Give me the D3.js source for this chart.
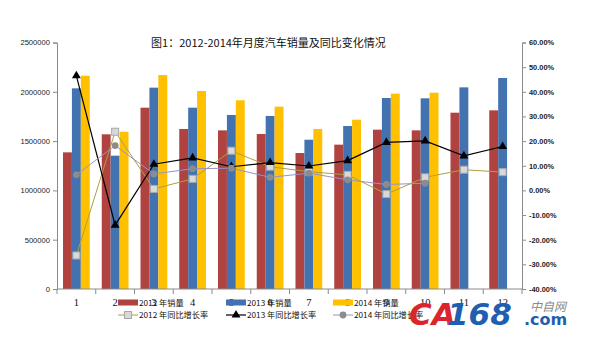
<!DOCTYPE html>
<html><head><meta charset="utf-8">
<script src="https://cdn.jsdelivr.net/npm/d3@7/dist/d3.min.js"></script>
<style>html,body{margin:0;padding:0;background:#fff;}svg{display:block;}</style>
</head><body>
<svg id="c" width="590" height="342"></svg>
<script>
const months = ["1","2","3","4","5","6","7","8","9","10","11","12"];
const sales2012 = [1386000,1569000,1839000,1623000,1609000,1572000,1379000,1464000,1616000,1609000,1788000,1812000];
const sales2013 = [2035000,1352000,2042000,1839000,1765000,1755000,1514000,1653000,1937000,1934000,2045000,2140000];
const sales2014 = [2163000,1595000,2170000,2008000,1914000,1849000,1623000,1717000,1981000,1991000,null,null];
const growth2012 = [-26.4,23.8,0.6,4.7,16.1,9.6,7.6,6.3,-1.5,5.3,8.4,7.4];
const growth2013 = [46.5,-14.1,10.6,13.2,9.6,11.3,9.9,12.1,19.5,20.1,14.0,17.8];
const growth2014 = [6.3,18.2,6.7,8.8,9.0,5.3,7.0,4.3,2.4,2.9,null,null];
const leftTicks = [0,500000,1000000,1500000,2000000,2500000];
const rightTicks = [-40,-30,-20,-10,0,10,20,30,40,50,60];
const title = "图1：2012-2014年月度汽车销量及同比变化情况";
const barNames = ["2012 年销量","2013 年销量","2014 年销量"];
const lineNames = ["2012 年同比增长率","2013 年同比增长率","2014 年同比增长率"];

const svg = d3.select("#c");
const L = 57, R = 522, T = 42.5, B = 289;
const x = d3.scaleBand().domain(months).range([L, R]);
const sub = d3.scaleBand().domain([0,1,2]).range([6, x.bandwidth()-6]);
const yL = d3.scaleLinear().domain([0,2500000]).range([B, T]);
const yR = d3.scaleLinear().domain([-40,60]).range([B, T]);
const barColors = ["#B0433F","#4272B0","#FFC000"];
const axisColor = "#8a8a8a";

// title
svg.append("text").attr("x", 268.5).attr("y", 47).attr("text-anchor","middle")
  .attr("font-family","'Noto Sans CJK SC'").attr("font-size",11).attr("fill","#111").text(title);

// bars
const series = [sales2012, sales2013, sales2014];
series.forEach((s, si) => {
  svg.append("g").selectAll("rect").data(months.map((m,i)=>({m, v:s[i]})).filter(d=>d.v!=null))
    .join("rect")
    .attr("x", d => x(d.m) + sub(si))
    .attr("width", sub.bandwidth())
    .attr("y", d => yL(d.v))
    .attr("height", d => B - yL(d.v))
    .attr("fill", barColors[si]);
});

// axes
const gL = svg.append("g").attr("transform",`translate(${L},0)`)
  .call(d3.axisLeft(yL).tickValues(leftTicks).tickSize(4).tickPadding(3).tickFormat(d3.format("d")));
const gR = svg.append("g").attr("transform",`translate(${R},0)`)
  .call(d3.axisRight(yR).tickValues(rightTicks).tickSize(4).tickPadding(3).tickFormat(d => d.toFixed(2) + "%"));
[gL, gR].forEach(g => {
  g.select(".domain").attr("stroke", axisColor);
  g.selectAll(".tick line").attr("stroke", axisColor);
  g.selectAll(".tick text").attr("font-family","'Liberation Sans', Arial").attr("font-size",7.6).attr("fill","#222");
});
gR.selectAll(".tick text").attr("font-weight","bold").attr("font-size",7.4);

// x axis
svg.append("line").attr("x1",L).attr("x2",R).attr("y1",B).attr("y2",B).attr("stroke",axisColor);
const bounds = months.map(m => x(m)).concat([R]);
svg.append("g").selectAll("line").data(bounds).join("line")
  .attr("x1", d=>d).attr("x2", d=>d).attr("y1", B).attr("y2", B+5).attr("stroke", axisColor);
svg.append("g").selectAll("text").data(months).join("text")
  .attr("x", d => x(d) + x.bandwidth()/2).attr("y", 306).attr("text-anchor","middle")
  .attr("font-family","'Liberation Serif', serif").attr("font-size",10.5).attr("fill","#111").text(d=>d);

// lines
const lineCfg = [
  {data: growth2012, color:"#ADA040", w:1, marker:"square"},
  {data: growth2013, color:"#000000", w:1.2, marker:"triangle"},
  {data: growth2014, color:"#9494CC", w:1, marker:"circle"}
];
const cx = m => x(m) + x.bandwidth()/2;
function drawMarker(g, type, px, py) {
  if (type === "square") {
    g.append("rect").attr("x",px-3.5).attr("y",py-3.5).attr("width",7).attr("height",7)
      .attr("fill","#D9D9D9").attr("stroke","#A8A8A8").attr("stroke-width",1);
  } else if (type === "triangle") {
    g.append("path").attr("d", d3.symbol().type(d3.symbolTriangle).size(34)()).attr("transform",`translate(${px},${py})`)
      .attr("fill","#000");
  } else {
    g.append("circle").attr("cx",px).attr("cy",py).attr("r",3.4).attr("fill","#8C8C8C");
  }
}
lineCfg.forEach(cfg => {
  const pts = months.map((m,i)=>({m, v:cfg.data[i]})).filter(d=>d.v!=null);
  const g = svg.append("g");
  g.append("path").datum(pts)
    .attr("d", d3.line().x(d=>cx(d.m)).y(d=>yR(d.v)))
    .attr("fill","none").attr("stroke",cfg.color).attr("stroke-width",cfg.w);
  pts.forEach(d => drawMarker(g, cfg.marker, cx(d.m), yR(d.v)));
});

// legend
const legX = [118, 226, 333];
const lg = svg.append("g");
barNames.forEach((n,i) => {
  lg.append("rect").attr("x",legX[i]).attr("y",299.5).attr("width",20).attr("height",6).attr("fill",barColors[i]);
  lg.append("text").attr("x",legX[i]+21).attr("y",305.5).attr("font-family","'Noto Sans CJK SC'").attr("font-size",8.2).attr("fill","#111").text(n);
});
lineNames.forEach((n,i) => {
  const cfg = lineCfg[i];
  lg.append("line").attr("x1",legX[i]).attr("x2",legX[i]+20).attr("y1",315).attr("y2",315).attr("stroke",cfg.color).attr("stroke-width",cfg.w);
  drawMarker(lg, cfg.marker, legX[i]+10, 315);
  lg.append("text").attr("x",legX[i]+21).attr("y",318).attr("font-family","'Noto Sans CJK SC'").attr("font-size",8.2).attr("fill","#111").text(n);
});

// watermark
const wm = svg.append("g");
wm.append("text").attr("x",409).attr("y",325).attr("font-family","'DejaVu Sans'").attr("font-weight","bold").attr("font-style","italic")
  .attr("font-size",31).attr("fill","#D9252B").text("CA");
wm.append("text").attr("x",447).attr("y",325).attr("font-family","'DejaVu Sans'").attr("font-weight","bold").attr("font-style","italic")
  .attr("font-size",31).attr("fill","#1F5FAF").text("168");
wm.append("text").attr("x",524).attr("y",325).attr("font-family","'DejaVu Sans'").attr("font-weight","bold")
  .attr("font-size",16).attr("fill","#1F5FAF").text(".com");
wm.append("text").attr("x",530).attr("y",311).attr("font-family","'Noto Sans CJK SC'").attr("font-style","italic")
  .attr("font-size",12).attr("fill","#8a8a8a").text("中自网");
</script>
</body></html>
